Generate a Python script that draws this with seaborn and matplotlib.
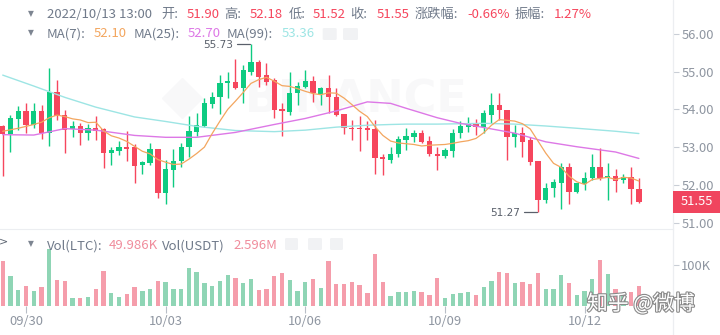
import matplotlib
matplotlib.use("Agg")
import matplotlib.pyplot as plt
import matplotlib.patheffects as pe
from matplotlib.lines import Line2D
from matplotlib.patches import Rectangle, FancyBboxPatch
import numpy as np
import pandas as pd
import seaborn as sns

# ---------------- data (LTC/USDT, 4h candles) ----------------
opens = [53.56, 53.35, 53.75, 53.97, 53.59, 53.96, 53.37, 54.47, 53.84, 53.48,
         53.56, 53.37, 53.52, 53.47, 52.85, 52.90, 52.99, 52.99, 52.53, 52.57,
         52.94, 51.79, 52.39, 52.63, 52.99, 53.41, 53.57, 54.14, 54.34, 54.69,
         54.74, 54.56, 55.00, 55.27, 54.91, 54.78, 54.00, 53.94, 54.43, 54.60,
         54.75, 54.40, 54.58, 54.34, 53.87, 53.52, 53.50, 53.50, 53.48, 52.73,
         52.66, 52.82, 53.19, 53.28, 53.37, 53.17, 52.83, 52.76, 52.90, 53.37,
         53.54, 53.65, 53.54, 53.85, 54.12, 53.98, 53.26, 53.37, 53.19, 52.63,
         51.61, 51.91, 52.06, 52.48, 51.82, 52.02, 52.17, 52.48, 52.17, 52.23,
         52.13, 52.22, 51.90]
highs = [53.59, 53.85, 54.09, 54.18, 54.18, 54.13, 55.09, 54.78, 53.98, 53.68,
         53.65, 53.61, 53.83, 53.50, 53.01, 53.17, 53.44, 53.08, 52.63, 53.10,
         52.96, 52.66, 52.94, 53.10, 53.83, 53.90, 54.31, 54.47, 54.90, 54.98,
         55.33, 55.18, 55.73, 55.30, 55.22, 54.82, 54.16, 55.00, 54.74, 55.05,
         54.89, 54.60, 54.91, 54.56, 53.87, 53.72, 53.83, 53.68, 53.72, 52.83,
         53.01, 53.29, 53.52, 53.45, 53.45, 53.29, 52.99, 52.97, 53.47, 53.68,
         53.81, 53.74, 53.98, 54.44, 54.43, 53.98, 53.59, 53.53, 53.26, 52.63,
         52.04, 52.15, 52.57, 52.57, 52.06, 52.35, 52.82, 52.97, 52.57, 52.41,
         52.30, 52.48, 52.18]
lows = [52.23, 52.88, 53.45, 53.38, 53.50, 53.21, 53.04, 53.72, 52.85, 53.26,
        53.06, 53.19, 53.19, 52.44, 52.53, 52.79, 52.64, 52.06, 52.29, 52.53,
        51.66, 51.49, 51.95, 52.48, 52.75, 53.30, 53.53, 54.05, 53.88, 54.29,
        54.53, 54.16, 54.91, 54.60, 54.65, 53.76, 53.29, 53.85, 54.12, 54.56,
        54.19, 54.12, 53.90, 53.82, 53.34, 53.19, 52.90, 53.19, 52.29, 52.26,
        52.57, 52.73, 52.92, 53.14, 53.10, 52.76, 52.38, 52.70, 52.75, 53.23,
        53.41, 53.32, 53.37, 53.63, 53.72, 52.66, 52.99, 52.75, 52.53, 51.27,
        51.51, 51.69, 51.35, 51.49, 51.77, 51.86, 52.13, 52.13, 51.60, 51.82,
        52.04, 51.49, 51.52]
closes = [53.35, 53.76, 53.96, 53.59, 53.97, 53.37, 54.47, 53.83, 53.45, 53.56,
          53.37, 53.52, 53.44, 52.85, 52.92, 52.99, 52.94, 52.50, 52.60, 52.94,
          51.79, 52.41, 52.63, 52.99, 53.43, 53.59, 54.16, 54.34, 54.71, 54.75,
          54.56, 55.05, 55.27, 54.87, 54.74, 53.98, 53.96, 54.43, 54.62, 54.75,
          54.43, 54.58, 54.34, 53.85, 53.52, 53.47, 53.47, 53.45, 52.70, 52.68,
          52.82, 53.21, 53.29, 53.37, 53.14, 52.83, 52.76, 52.92, 53.37, 53.56,
          53.63, 53.54, 53.90, 54.12, 53.98, 53.26, 53.38, 53.14, 52.61, 51.60,
          51.92, 52.08, 52.46, 51.82, 52.04, 52.17, 52.48, 52.17, 52.23, 52.10,
          52.22, 51.88, 51.55]
volumes_k = [109.8, 74.0, 39.0, 49.6, 37.4, 47.2, 140.0, 63.4, 61.0, 20.3,
             20.3, 22.8, 40.6, 86.2, 30.9, 22.8, 29.3, 47.2, 36.6, 40.6,
             61.8, 57.7, 42.3, 40.6, 91.9, 82.9, 56.9, 48.8, 61.8, 75.6,
             67.5, 55.3, 65.9, 39.0, 41.5, 74.0, 79.7, 63.4, 36.6, 57.7,
             66.7, 44.7, 109.8, 53.7, 53.7, 57.7, 51.2, 30.9, 126.0, 57.7,
             25.2, 33.3, 33.3, 37.4, 35.0, 26.8, 67.5, 18.7, 29.3, 30.9,
             35.0, 26.0, 45.5, 61.0, 83.7, 81.3, 55.3, 59.3, 52.8, 81.3,
             41.5, 41.5, 75.6, 55.3, 26.8, 36.6, 65.9, 112.0, 77.2, 40.6,
             26.8, 35.0, 49.986]
ma7 = [53.42, 53.46, 53.50, 53.55, 53.60, 53.66, 53.78, 53.85, 53.81, 53.75,
       53.72, 53.65, 53.66, 53.43, 53.30, 53.24, 53.15, 53.02, 52.89, 52.82,
       52.67, 52.60, 52.54, 52.55, 52.68, 52.83, 53.00, 53.36, 53.69, 54.00,
       54.22, 54.45, 54.69, 54.79, 54.85, 54.75, 54.63, 54.61, 54.55, 54.48,
       54.42, 54.39, 54.44, 54.43, 54.30, 54.13, 53.95, 53.81, 53.54, 53.31,
       53.16, 53.11, 53.09, 53.07, 53.03, 53.05, 53.06, 53.07, 53.10, 53.14,
       53.17, 53.23, 53.38, 53.58, 53.73, 53.71, 53.69, 53.62, 53.48, 53.16,
       52.84, 52.57, 52.46, 52.23, 52.08, 52.01, 52.14, 52.17, 52.20, 52.14,
       52.20, 52.18, 52.10]
ma_idx = [0, 4, 8, 12, 17, 21, 25, 30, 35, 39, 43, 47, 50, 52, 56, 59, 62, 66, 70, 74, 79, 82]
ma25 = [53.33, 53.32, 53.49, 53.45, 53.31, 53.26, 53.26, 53.39, 53.60, 53.76, 53.96,
        54.20, 54.16, 54.03, 53.78, 53.63, 53.52, 53.37, 53.14, 53.01, 52.87, 52.70]
ma99 = [54.91, 54.62, 54.32, 54.06, 53.80, 53.68, 53.55, 53.44, 53.41, 53.45, 53.53,
        53.58, 53.60, 53.61, 53.61, 53.62, 53.63, 53.61, 53.56, 53.50, 53.42, 53.36]
date_labels = ["09/30", "10/03", "10/06", "10/09", "10/12"]
date_idx = [3, 21, 39, 57, 75]
price_ticks = [51, 52, 53, 54, 55, 56]
vol_ticks = [100]

# ---------------- style ----------------
sns.set_theme(style="white")
plt.rcParams["font.family"] = ["Noto Sans CJK SC", "DejaVu Sans"]
plt.rcParams["axes.unicode_minus"] = False

W, H = 720, 335
fig = plt.figure(figsize=(7.2, 3.35), dpi=100)
fig.patch.set_facecolor("white")


def fx(x):
    return x / W


def fy(y):
    return 1 - y / H


GREEN, RED = "#0ecb81", "#f6465d"
VGREEN, VRED = "#8fd5b5", "#f59dab"
C7, C25, C99 = "#f3a65f", "#dd78e6", "#9de5e4"
GRAY = "#707a8a"
TICKC = "#8f96a1"

n = len(closes)
idx = np.arange(n)
o = np.array(opens)
c = np.array(closes)
hi = np.array(highs)
lo = np.array(lows)
up = c >= o
cols = np.where(up, GREEN, RED)

XMIN, XMAX = -0.35, 86.4

# ---------------- price pane ----------------
axp = fig.add_axes([0, fy(229), 673 / W, 229 / H])
axp.patch.set_alpha(0)
axp.text(0.53, 0.565, "BINANCE", transform=axp.transAxes, fontsize=32, fontweight="bold",
         color="#f8f8f9", ha="center", va="center", zorder=0, family="DejaVu Sans")
axp.plot([0.27], [0.57], marker="D", markersize=20, color="#f8f8f9",
         transform=axp.transAxes, zorder=0)

axp.vlines(idx, lo, hi, colors=cols, linewidth=1.0, zorder=2)
body_bottom = np.minimum(o, c)
body_h = np.maximum(np.abs(c - o), 0.03)
axp.bar(idx, body_h, bottom=body_bottom, width=0.68, color=cols, linewidth=0, zorder=2)

sns.lineplot(x=ma_idx, y=ma99, ax=axp, color=C99, linewidth=1.0, zorder=3)
sns.lineplot(x=ma_idx, y=ma25, ax=axp, color=C25, linewidth=1.0, zorder=3)
sns.lineplot(x=idx, y=ma7, ax=axp, color=C7, linewidth=0.9, zorder=3)

axp.set_xlim(XMIN, XMAX)
axp.set_ylim(50.828, 56.902)
axp.set_xlabel("")
axp.set_ylabel("")
axp.set_xticks([])
axp.yaxis.tick_right()
axp.set_yticks(price_ticks)
axp.set_yticklabels([f"{v:.2f}" for v in price_ticks])
axp.tick_params(axis="y", length=4, width=0.8, color="#c9ced6", labelcolor=TICKC,
                labelsize=9.3, pad=2, right=True, left=False)
for s in ["top", "left", "right"]:
    axp.spines[s].set_visible(False)
axp.spines["bottom"].set_color("#eceef1")
axp.spines["bottom"].set_linewidth(0.8)

# high / low annotations
imax = int(np.argmax(hi))
imin = int(np.argmin(lo))
for k, v in [(imax, hi[imax]), (imin, lo[imin])]:
    axp.plot([k - 1.8, k - 0.15], [v, v], color="#5a606b", lw=0.9, zorder=4)
    axp.annotate(f"{v:.2f}", xy=(k - 2.3, v), xytext=(0, -0.8), textcoords="offset pixels",
                 ha="right", va="center", fontsize=7.6, color="#5a606b", zorder=4,
                 family="DejaVu Sans")

# ---------------- volume pane ----------------
axv = fig.add_axes([0, fy(306), 673 / W, 76 / H])
axv.patch.set_alpha(0)
vdf = pd.DataFrame({"i": idx, "vol": volumes_k, "dir": np.where(up, "up", "down")})
sns.barplot(data=vdf, x="i", y="vol", hue="dir", palette={"up": VGREEN, "down": VRED},
            native_scale=True, width=0.56, saturation=1, dodge=False, legend=False,
            errorbar=None, ax=axv, linewidth=0)
axv.set_xlim(XMIN, XMAX)
axv.set_ylim(0, 185.4)
axv.set_xlabel("")
axv.set_ylabel("")
axv.set_xticks(date_idx)
axv.set_xticklabels(date_labels)
axv.tick_params(axis="x", length=5, width=0.8, color="#b8bec7", labelcolor=TICKC,
                labelsize=9.3, pad=1.5, bottom=True)
axv.yaxis.tick_right()
axv.set_yticks(vol_ticks)
axv.set_yticklabels([f"{v}K" for v in vol_ticks])
axv.tick_params(axis="y", length=4, width=0.8, color="#c9ced6", labelcolor=TICKC,
                labelsize=9.3, pad=2, right=True, left=False)
for s in ["top", "left", "right", "bottom"]:
    axv.spines[s].set_visible(False)

# right separator line
fig.add_artist(Line2D([fx(673), fx(673)], [0, 1], transform=fig.transFigure,
                      color="#eceef1", lw=0.9))

# current price box
fig.canvas.draw()
ydisp = axp.transData.transform((0, c[-1]))[1]
yc = ydisp / H
fig.add_artist(Rectangle((fx(673), yc - 10.8 / H), 47 / W, 21.6 / H, transform=fig.transFigure,
                         facecolor="#f0455e", edgecolor="none", zorder=5))
fig.text(fx(696.5), yc, f"{c[-1]:.2f}", color="white", fontsize=9.3, ha="center",
         va="center", zorder=6)

# ---------------- header texts ----------------
def put(x, y, s, color, size=9.5, **kw):
    fig.text(fx(x), fy(y), s, color=color, fontsize=size, ha="left", va="baseline", **kw)


def tri(y):
    fig.text(fx(30.7), fy(y), "▼", color="#7d8591", fontsize=5.5, ha="center",
             va="center", family="DejaVu Sans")


tri(13.5)
b1 = 18.3
put(46.7, b1, "2022/10/13 13:00", GRAY)
put(161, b1, "开:", GRAY)
put(186.7, b1, f"{opens[-1]:.2f}", RED)
put(224.3, b1, "高:", GRAY)
put(250, b1, f"{highs[-1]:.2f}", RED)
put(288.7, b1, "低:", GRAY)
put(313, b1, f"{lows[-1]:.2f}", RED)
put(350, b1, "收:", GRAY)
put(376.7, b1, f"{closes[-1]:.2f}", RED)
put(415, b1, "涨跌幅:", GRAY)
put(467, b1, "-0.66%", RED)
put(515, b1, "振幅:", GRAY)
put(553.3, b1, "1.27%", RED)

tri(33)
b2 = 37.4
put(46.7, b2, "MA(7):", GRAY)
put(93.3, b2, f"{ma7[-1]:.2f}", C7)
put(133.3, b2, "MA(25):", GRAY)
put(187.7, b2, f"{ma25[-1]:.2f}", C25)
put(226.7, b2, "MA(99):", GRAY)
put(281.7, b2, f"{ma99[-1]:.2f}", C99)

tri(244)
b3 = 249.3
put(46.7, b3, "Vol(LTC):", GRAY)
put(109, b3, f"{volumes_k[-1]:.3f}K", "#f08c9c")
put(161.7, b3, "Vol(USDT)", GRAY)
put(233.3, b3, "2.596M", "#f08c9c")


def icon(x0, x1, y0, y1):
    fig.add_artist(FancyBboxPatch((fx(x0), fy(y1)), (x1 - x0) / W, (y1 - y0) / H,
                                  boxstyle="round,pad=0,rounding_size=0.003",
                                  transform=fig.transFigure, facecolor="#f1f2f4",
                                  edgecolor="none", zorder=1))


icon(322.7, 336.7, 28, 40)
icon(343, 358, 28, 40)
icon(285, 298, 238, 250)
icon(308, 322, 238, 250)
icon(330, 343, 238, 250)

fig.text(fx(4), fy(241), ">", color="#5e6673", fontsize=8, ha="center", va="center",
         family="DejaVu Sans")

# zhihu watermark
fig.text(fx(587), fy(304), "知乎 @微博", color="white", fontsize=15, ha="left",
         va="center", zorder=10,
         path_effects=[pe.withStroke(linewidth=1.6, foreground="#8a8a8a")])

fig.savefig("out.png", dpi=100, facecolor="white")
